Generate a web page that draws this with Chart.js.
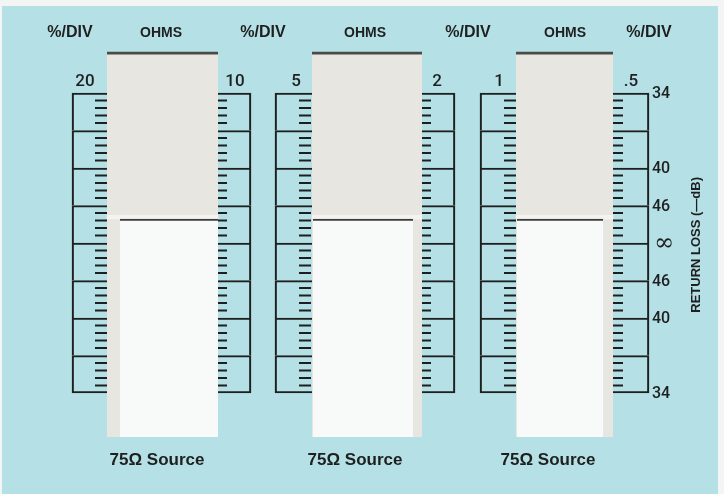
<!DOCTYPE html>
<html>
<head>
<meta charset="utf-8">
<script src="https://cdn.jsdelivr.net/npm/chart.js@4.4.0/dist/chart.umd.min.js"></script>
<style>
  html, body { margin: 0; padding: 0; background: #f3f5f4; }
  #card { display: block; }
</style>
</head>
<body>
<canvas id="card" width="724" height="494"></canvas>
<script>
const windowLabels = ['OHMS', 'OHMS', 'OHMS'];
const pctDivHeaders = ['%/DIV', '%/DIV', '%/DIV', '%/DIV'];
const pctPerDiv = ['20', '10', '5', '2', '1', '.5'];
const returnLossTicks = [0, 2, 3, 4, 5, 6, 8];
const returnLossLabels = ['34', '40', '46', '\u221E', '46', '40', '34'];
const sourceLabels = ['75\u03A9 Source', '75\u03A9 Source', '75\u03A9 Source'];
const majorDivs = 8;
const minorPerDiv = 5;

// --- layout (x in card pixels, y in scale divisions) ---
const CARD_BG = '#b5e0e6';
const INK = '#1e1f1f';
const WIN_TOP = -1.1, WIN_BOTTOM = 9.17, INSERT_TOP = 3.36;
const windowsPos = [
    { left: 107, right: 218, inLeft: 120, inRight: 218 },
    { left: 312, right: 422, inLeft: 313, inRight: 413 },
    { left: 516, right: 613, inLeft: 517, inRight: 603 }
];
// one box column on each side of each window
const boxCols = [
    { outer: 72, side: 'left', tick: 101, r: 6 },
    { outer: 251, side: 'right', tick: 222.5, r: 4.5 },
    { outer: 275, side: 'left', tick: 305, r: 6 },
    { outer: 455, side: 'right', tick: 426.5, r: 4.5 },
    { outer: 480, side: 'left', tick: 510, r: 6 },
    { outer: 649, side: 'right', tick: 618, r: 5 }
];
const headerX = [70, 263, 468, 649];
const ohmsX = [161, 365, 565];
const pctX = [85, 235, 296, 437, 499, 631];
const sourceX = [157, 355, 548];

const BOX_W = 42;
const LINE_W = 1.5;
const datasets = [];

// scale boxes: one outlined cell per major division (bottom edge only on the last cell)
boxCols.forEach(col => {
    const cx = col.side === 'left' ? col.outer + BOX_W / 2 : col.outer - BOX_W / 2;
    const cells = [];
    for (let i = 0; i < majorDivs; i++) cells.push({ x: cx, y: [i, i + 1] });
    datasets.push({
        type: 'bar', data: cells, order: 5, grouped: false, clip: false,
        barThickness: BOX_W, backgroundColor: 'rgba(0,0,0,0)',
        borderColor: INK, borderSkipped: false,
        borderWidth: c => ({ top: LINE_W, left: LINE_W, right: LINE_W,
            bottom: c.dataIndex === majorDivs - 1 ? LINE_W : 0 })
    });
});

// minor ticks
boxCols.forEach(col => {
    const pts = [];
    for (let i = 0; i < majorDivs; i++) {
        for (let j = 1; j < minorPerDiv; j++) pts.push({ x: col.tick, y: i + j / minorPerDiv });
    }
    datasets.push({
        type: 'scatter', data: pts, order: 0, clip: false,
        pointStyle: 'line', pointRadius: col.r, pointBorderWidth: 2,
        pointBorderColor: INK, pointBackgroundColor: INK
    });
});

// windows (upper grey slide), a light lip above the insert, and the white lower insert
windowsPos.forEach(w => {
    datasets.push({
        type: 'bar', order: 4, grouped: false, clip: false,
        data: [{ x: (w.left + w.right) / 2, y: [WIN_TOP, WIN_BOTTOM] }],
        barThickness: w.right - w.left, backgroundColor: '#e8e6e1',
        borderColor: '#4b4a47', borderWidth: { top: 3, left: 0, right: 0, bottom: 0 },
        borderSkipped: false
    });
    datasets.push({
        type: 'bar', order: 3, grouped: false, clip: false,
        data: [{ x: (w.left + w.right) / 2, y: [INSERT_TOP - 0.1, INSERT_TOP] }],
        barThickness: w.right - w.left, backgroundColor: '#f4f3f0', borderWidth: 0
    });
    datasets.push({
        type: 'bar', order: 2, grouped: false, clip: false,
        data: [{ x: (w.inLeft + w.inRight) / 2, y: [INSERT_TOP, WIN_BOTTOM] }],
        barThickness: w.inRight - w.inLeft, backgroundColor: '#f8f9f9',
        borderColor: '#3d3d3b', borderWidth: { top: 2, left: 0, right: 0, bottom: 0 },
        borderSkipped: false
    });
});

const cardBackground = {
    id: 'cardBackground',
    beforeDraw(chart) {
        const ctx = chart.ctx;
        ctx.save();
        ctx.fillStyle = '#f3f5f4';
        ctx.fillRect(0, 0, chart.width, chart.height);
        ctx.fillStyle = CARD_BG;
        ctx.fillRect(2, 6, 716, chart.height - 6);
        ctx.restore();
    }
};

const cardText = {
    id: 'cardText',
    afterDraw(chart) {
        const { ctx, scales: { x, y } } = chart;
        ctx.save();
        ctx.fillStyle = INK;
        ctx.textAlign = 'center';
        ctx.textBaseline = 'middle';

        ctx.font = 'bold 16px "Liberation Sans", Arial, sans-serif';
        pctDivHeaders.forEach((t, i) => ctx.fillText(t, x.getPixelForValue(headerX[i]), y.getPixelForValue(-1.6)));
        ctx.font = 'bold 14px "Liberation Sans", Arial, sans-serif';
        windowLabels.forEach((t, i) => ctx.fillText(t, x.getPixelForValue(ohmsX[i]), y.getPixelForValue(-1.6)));

        ctx.font = '500 17px Roboto, "Liberation Sans", sans-serif';
        pctPerDiv.forEach((t, i) => ctx.fillText(t, x.getPixelForValue(pctX[i]), y.getPixelForValue(-0.3)));

        ctx.font = 'bold 17px "Liberation Sans", Arial, sans-serif';
        sourceLabels.forEach((t, i) => ctx.fillText(t, x.getPixelForValue(sourceX[i]), y.getPixelForValue(9.8)));

        ctx.textAlign = 'left';
        returnLossLabels.forEach((t, i) => {
            const inf = t === '\u221E';
            ctx.font = inf ? '24px "DejaVu Serif", serif' : '500 16px Roboto, "Liberation Sans", sans-serif';
            ctx.fillText(t, x.getPixelForValue(inf ? 654 : 652), y.getPixelForValue(returnLossTicks[i]) + 1);
        });

        ctx.translate(x.getPixelForValue(696), y.getPixelForValue(4.05));
        ctx.rotate(-Math.PI / 2);
        ctx.textAlign = 'center';
        ctx.font = 'bold 13px "Liberation Sans", Arial, sans-serif';
        ctx.fillText('RETURN LOSS (\u2014dB)', 0, 0);
        ctx.restore();
    }
};

new Chart(document.getElementById('card'), {
    type: 'bar',
    data: { datasets: datasets },
    options: {
        responsive: false,
        animation: false,
        events: [],
        layout: { autoPadding: false, padding: { top: 93, bottom: 101, left: 0, right: 0 } },
        plugins: { legend: { display: false }, tooltip: { enabled: false } },
        scales: {
            x: { type: 'linear', min: 0, max: 724, offset: false, display: false },
            y: { type: 'linear', min: 0, max: majorDivs, reverse: true, display: false }
        }
    },
    plugins: [cardBackground, cardText]
});
</script>
</body>
</html>
